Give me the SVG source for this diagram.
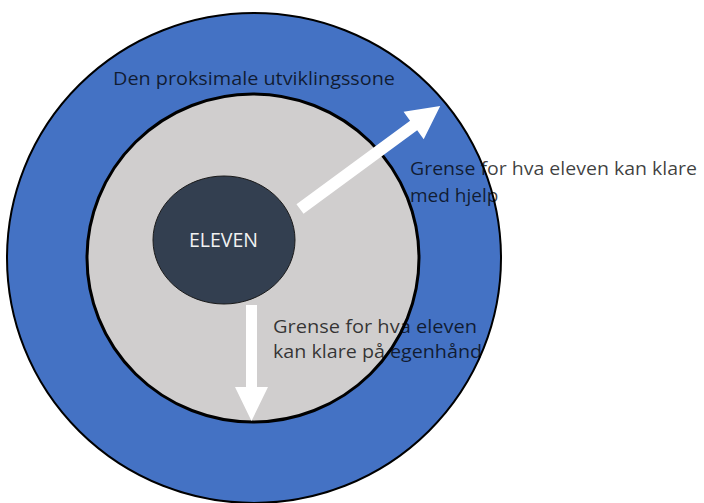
<svg xmlns="http://www.w3.org/2000/svg" width="704" height="503" viewBox="0 0 704 503">
<style>
.lbl{font-family:"Open Sans","Liberation Sans",sans-serif;font-size:19px;fill:#000;fill-opacity:0.76}
.wht{font-family:"Open Sans","Liberation Sans",sans-serif;font-size:20px;fill:#F2F2F2}
.line{fill:none;stroke:#000}
.arrow{fill:#FFFFFF}
</style>
<rect width="704" height="503" fill="#FFFFFF"/>
<g id="zone-outer">
<ellipse cx="254" cy="258" rx="247" ry="245" fill="#4472C4"/>
</g>
<g id="zone-inner">
<ellipse cx="253" cy="258" rx="166" ry="164" fill="#D0CECE"/>
</g>
<g id="labels">
<text class="lbl" x="113" y="85" textLength="282" lengthAdjust="spacingAndGlyphs">Den proksimale utviklingssone</text>
<text class="lbl" x="410" y="175" textLength="287" lengthAdjust="spacingAndGlyphs">Grense for hva eleven kan klare</text>
<text class="lbl" x="410" y="202">med hjelp</text>
<text class="lbl" x="273" y="333" textLength="204" lengthAdjust="spacingAndGlyphs">Grense for hva eleven</text>
<text class="lbl" x="273" y="358" textLength="209" lengthAdjust="spacingAndGlyphs">kan klare på egenhånd</text>
</g>
<g id="outlines">
<ellipse class="line" cx="254" cy="258" rx="247" ry="245" stroke-width="2"/>
<ellipse class="line" cx="253" cy="258" rx="166" ry="164" stroke-width="3"/>
</g>
<g id="connectors">
<polygon class="arrow" transform="translate(300,209) rotate(-36.3)" points="0,-6 141,-6 141,-17 174,0 141,17 141,6 0,6"/>
<polygon class="arrow" points="246,305 257,305 257,387 268,387 251.5,421 235,387 246,387"/>
</g>
<g id="eleven">
<ellipse cx="224" cy="240" rx="71" ry="64" fill="#333F50" stroke="#1a1a1a" stroke-width="1"/>
<text class="wht" x="223.5" y="247" text-anchor="middle" textLength="69" lengthAdjust="spacingAndGlyphs">ELEVEN</text>
</g>
</svg>
